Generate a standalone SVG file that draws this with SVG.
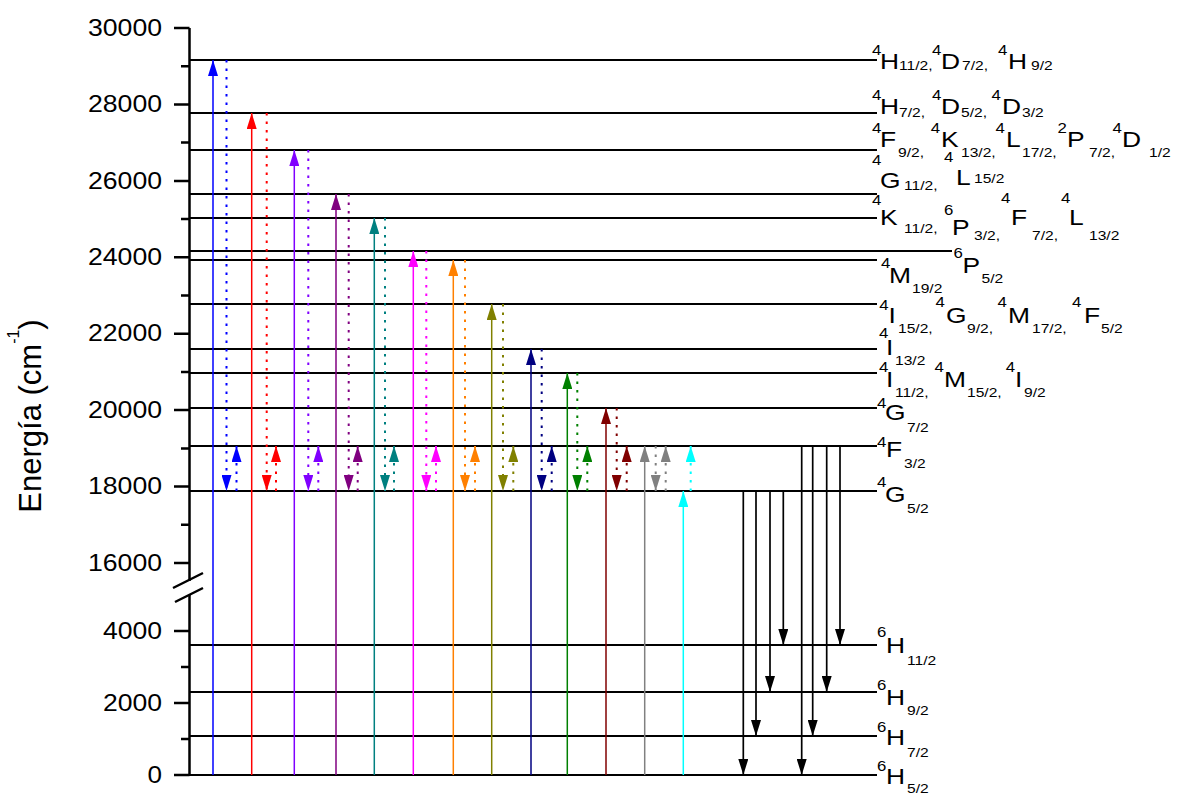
<svg xmlns="http://www.w3.org/2000/svg" width="1179" height="795" viewBox="0 0 1179 795">
<style>
text{font-family:"Liberation Sans",Arial,sans-serif;fill:#000}
.lv{stroke:#000;stroke-width:2;fill:none}
.ax{stroke:#000;stroke-width:2.5;fill:none}
.tk{font-size:23px;text-anchor:end}
.m{font-size:22px}
.p{font-size:14px}
.b{font-size:13px}
.s{fill:none;stroke-width:1.5}
.d{fill:none;stroke-width:2;stroke-dasharray:2.5 6}
.k{fill:none;stroke:#000;stroke-width:1.7}
</style>
<defs>
<marker id="h-blue" viewBox="0 0 16 10" refX="16" refY="5" markerWidth="16" markerHeight="10" markerUnits="userSpaceOnUse" orient="auto"><path d="M0,0L16,5L0,10z" fill="#0000FF"/></marker>
<marker id="h-red" viewBox="0 0 16 10" refX="16" refY="5" markerWidth="16" markerHeight="10" markerUnits="userSpaceOnUse" orient="auto"><path d="M0,0L16,5L0,10z" fill="#FF0000"/></marker>
<marker id="h-violet" viewBox="0 0 16 10" refX="16" refY="5" markerWidth="16" markerHeight="10" markerUnits="userSpaceOnUse" orient="auto"><path d="M0,0L16,5L0,10z" fill="#8000FF"/></marker>
<marker id="h-purple" viewBox="0 0 16 10" refX="16" refY="5" markerWidth="16" markerHeight="10" markerUnits="userSpaceOnUse" orient="auto"><path d="M0,0L16,5L0,10z" fill="#800080"/></marker>
<marker id="h-teal" viewBox="0 0 16 10" refX="16" refY="5" markerWidth="16" markerHeight="10" markerUnits="userSpaceOnUse" orient="auto"><path d="M0,0L16,5L0,10z" fill="#008080"/></marker>
<marker id="h-magenta" viewBox="0 0 16 10" refX="16" refY="5" markerWidth="16" markerHeight="10" markerUnits="userSpaceOnUse" orient="auto"><path d="M0,0L16,5L0,10z" fill="#FF00FF"/></marker>
<marker id="h-orange" viewBox="0 0 16 10" refX="16" refY="5" markerWidth="16" markerHeight="10" markerUnits="userSpaceOnUse" orient="auto"><path d="M0,0L16,5L0,10z" fill="#FF8000"/></marker>
<marker id="h-olive" viewBox="0 0 16 10" refX="16" refY="5" markerWidth="16" markerHeight="10" markerUnits="userSpaceOnUse" orient="auto"><path d="M0,0L16,5L0,10z" fill="#808000"/></marker>
<marker id="h-navy" viewBox="0 0 16 10" refX="16" refY="5" markerWidth="16" markerHeight="10" markerUnits="userSpaceOnUse" orient="auto"><path d="M0,0L16,5L0,10z" fill="#000080"/></marker>
<marker id="h-green" viewBox="0 0 16 10" refX="16" refY="5" markerWidth="16" markerHeight="10" markerUnits="userSpaceOnUse" orient="auto"><path d="M0,0L16,5L0,10z" fill="#008000"/></marker>
<marker id="h-darkred" viewBox="0 0 16 10" refX="16" refY="5" markerWidth="16" markerHeight="10" markerUnits="userSpaceOnUse" orient="auto"><path d="M0,0L16,5L0,10z" fill="#800000"/></marker>
<marker id="h-gray" viewBox="0 0 16 10" refX="16" refY="5" markerWidth="16" markerHeight="10" markerUnits="userSpaceOnUse" orient="auto"><path d="M0,0L16,5L0,10z" fill="#808080"/></marker>
<marker id="h-cyan" viewBox="0 0 16 10" refX="16" refY="5" markerWidth="16" markerHeight="10" markerUnits="userSpaceOnUse" orient="auto"><path d="M0,0L16,5L0,10z" fill="#00FFFF"/></marker>
<marker id="h-black" viewBox="0 0 16 10" refX="16" refY="5" markerWidth="16" markerHeight="10" markerUnits="userSpaceOnUse" orient="auto"><path d="M0,0L16,5L0,10z" fill="#000000"/></marker>
</defs>
<rect width="1179" height="795" fill="#fff"/>

<g id="axis">
<path class="ax" d="M189.5,28V581M189.5,595V776"/>
<path class="ax" d="M174,28H189.5M174,104.4H189.5M174,181H189.5M174,257.3H189.5M174,333.7H189.5M174,410H189.5M174,486.6H189.5M174,563H189.5M174,631H189.5M174,703H189.5M174,775H189.5"/>
<path class="ax" d="M181,66.2H189.5M181,142.6H189.5M181,219.1H189.5M181,295.5H189.5M181,371.9H189.5M181,448.4H189.5M181,524.8H189.5M181,667H189.5M181,739H189.5"/>
<path class="ax" stroke-width="2" d="M173,588L203,573M175,602L203,588"/>
<text class="tk" x="162" y="35.5" textLength="74" lengthAdjust="spacingAndGlyphs">30000</text>
<text class="tk" x="162" y="112" textLength="74" lengthAdjust="spacingAndGlyphs">28000</text>
<text class="tk" x="162" y="188.5" textLength="74" lengthAdjust="spacingAndGlyphs">26000</text>
<text class="tk" x="162" y="265" textLength="74" lengthAdjust="spacingAndGlyphs">24000</text>
<text class="tk" x="162" y="341" textLength="74" lengthAdjust="spacingAndGlyphs">22000</text>
<text class="tk" x="162" y="417.5" textLength="74" lengthAdjust="spacingAndGlyphs">20000</text>
<text class="tk" x="162" y="494" textLength="74" lengthAdjust="spacingAndGlyphs">18000</text>
<text class="tk" x="162" y="570.5" textLength="74" lengthAdjust="spacingAndGlyphs">16000</text>
<text class="tk" x="162" y="638.5" textLength="59" lengthAdjust="spacingAndGlyphs">4000</text>
<text class="tk" x="162" y="710.5" textLength="59" lengthAdjust="spacingAndGlyphs">2000</text>
<text class="tk" x="162" y="782.5" textLength="14.5" lengthAdjust="spacingAndGlyphs">0</text>
<text transform="translate(41,416) rotate(-90)" text-anchor="middle" font-size="31">Energía (cm<tspan font-size="16" dy="-22">-1</tspan><tspan dy="22">)</tspan></text>
</g>

<g id="lv-4H11_2"><path class="lv" d="M189.5,60H877"/>
<text transform="translate(860,0) scale(1.2,1)"><tspan class="p" x="10" y="55">4</tspan><tspan class="m" x="16.67" y="69">H</tspan><tspan class="b" x="32.5" y="70">11/2,</tspan><tspan class="p" x="60" y="55">4</tspan><tspan class="m" x="67.5" y="69">D</tspan><tspan class="b" x="85" y="70">7/2,</tspan><tspan class="p" x="115" y="55">4</tspan><tspan class="m" x="123.33" y="69">H</tspan><tspan class="b" x="142.5" y="70">9/2</tspan></text></g>

<g id="lv-4H7_2"><path class="lv" d="M189.5,113H877"/>
<text transform="translate(860,0) scale(1.2,1)"><tspan class="p" x="10" y="100">4</tspan><tspan class="m" x="16.67" y="114">H</tspan><tspan class="b" x="32.5" y="117">7/2,</tspan><tspan class="p" x="60" y="100">4</tspan><tspan class="m" x="67.5" y="114">D</tspan><tspan class="b" x="84.17" y="117">5/2,</tspan><tspan class="p" x="109.5" y="100">4</tspan><tspan class="m" x="118.33" y="114">D</tspan><tspan class="b" x="135" y="117">3/2</tspan></text></g>

<g id="lv-4F9_2"><path class="lv" d="M189.5,150H877"/>
<text transform="translate(860,0) scale(1.2,1)"><tspan class="p" x="10" y="133">4</tspan><tspan class="m" x="16.67" y="147">F</tspan><tspan class="b" x="31.67" y="157">9/2,</tspan><tspan class="p" x="59" y="133">4</tspan><tspan class="m" x="67.5" y="147">K</tspan><tspan class="b" x="84.17" y="157">13/2,</tspan><tspan class="p" x="113" y="133">4</tspan><tspan class="m" x="121.67" y="147">L</tspan><tspan class="b" x="135" y="157">17/2,</tspan><tspan class="p" x="164.5" y="133">2</tspan><tspan class="m" x="172.5" y="147">P</tspan><tspan class="b" x="190.83" y="157">7/2,</tspan><tspan class="p" x="210.5" y="133">4</tspan><tspan class="m" x="218.33" y="147">D</tspan><tspan class="b" x="240.83" y="157">1/2</tspan></text></g>

<g id="lv-4G11_2"><path class="lv" d="M189.5,194H877"/>
<text transform="translate(860,0) scale(1.2,1)"><tspan class="p" x="10" y="165">4</tspan><tspan class="m" x="16.67" y="188">G</tspan><tspan class="b" x="36.67" y="190">11/2,</tspan><tspan class="p" x="70" y="162">4</tspan><tspan class="m" x="80" y="185">L</tspan><tspan class="b" x="95" y="183">15/2</tspan></text></g>

<g id="lv-4K11_2"><path class="lv" d="M189.5,218H877"/>
<text transform="translate(860,0) scale(1.2,1)"><tspan class="p" x="10" y="205">4</tspan><tspan class="m" x="16.67" y="225">K</tspan><tspan class="b" x="36.67" y="233">11/2,</tspan><tspan class="p" x="70" y="215">6</tspan><tspan class="m" x="76.67" y="235">P</tspan><tspan class="b" x="95" y="240">3/2,</tspan><tspan class="p" x="117.5" y="203">4</tspan><tspan class="m" x="125.83" y="225">F</tspan><tspan class="b" x="143.33" y="240">7/2,</tspan><tspan class="p" x="167.5" y="203">4</tspan><tspan class="m" x="174.17" y="225">L</tspan><tspan class="b" x="190.83" y="240">13/2</tspan></text></g>

<g id="lv-6P5_2"><path class="lv" d="M189.5,251H952"/>
<text transform="translate(860,0) scale(1.2,1)"><tspan class="p" x="78" y="258">6</tspan><tspan class="m" x="85.5" y="273">P</tspan><tspan class="b" x="101.3" y="283">5/2</tspan></text></g>

<g id="lv-4M19_2"><path class="lv" d="M189.5,260H877"/>
<text transform="translate(860,0) scale(1.2,1)"><tspan class="p" x="17.5" y="268">4</tspan><tspan class="m" x="24.17" y="283">M</tspan><tspan class="b" x="43.33" y="293">19/2</tspan></text></g>

<g id="lv-4I15_2"><path class="lv" d="M189.5,304H877"/>
<text transform="translate(860,0) scale(1.2,1)"><tspan class="p" x="16" y="310">4</tspan><tspan class="m" x="23.8" y="323">I</tspan><tspan class="b" x="31.67" y="333">15/2,</tspan><tspan class="p" x="63" y="307">4</tspan><tspan class="m" x="71.67" y="323">G</tspan><tspan class="b" x="89.17" y="333">9/2,</tspan><tspan class="p" x="114.5" y="307">4</tspan><tspan class="m" x="123.33" y="323">M</tspan><tspan class="b" x="143.33" y="333">17/2,</tspan><tspan class="p" x="176.67" y="307">4</tspan><tspan class="m" x="186.67" y="323">F</tspan><tspan class="b" x="200.83" y="333">5/2</tspan></text></g>

<g id="lv-4I13_2"><path class="lv" d="M189.5,349H877"/>
<text transform="translate(860,0) scale(1.2,1)"><tspan class="p" x="15.83" y="338">4</tspan><tspan class="m" x="21.67" y="355">I</tspan><tspan class="b" x="29.17" y="365">13/2</tspan></text></g>

<g id="lv-4I11_2"><path class="lv" d="M189.5,373H877"/>
<text transform="translate(860,0) scale(1.2,1)"><tspan class="p" x="15.83" y="372">4</tspan><tspan class="m" x="21.67" y="387">I</tspan><tspan class="b" x="29.17" y="397">11/2,</tspan><tspan class="p" x="62" y="372">4</tspan><tspan class="m" x="70" y="387">M</tspan><tspan class="b" x="89.17" y="397">15/2,</tspan><tspan class="p" x="121.5" y="372">4</tspan><tspan class="m" x="129.17" y="387">I</tspan><tspan class="b" x="136.67" y="397">9/2</tspan></text></g>

<g id="lv-4G7_2"><path class="lv" d="M189.5,408H877"/>
<text transform="translate(860,0) scale(1.2,1)"><tspan class="p" x="14.17" y="408">4</tspan><tspan class="m" x="20.83" y="420">G</tspan><tspan class="b" x="39.17" y="432">7/2</tspan></text></g>

<g id="lv-4F3_2"><path class="lv" d="M189.5,446H877"/>
<text transform="translate(860,0) scale(1.2,1)"><tspan class="p" x="14.17" y="447">4</tspan><tspan class="m" x="21.67" y="457">F</tspan><tspan class="b" x="36.67" y="468">3/2</tspan></text></g>

<g id="lv-4G5_2"><path class="lv" d="M189.5,491H877"/>
<text transform="translate(860,0) scale(1.2,1)"><tspan class="p" x="14.17" y="487">4</tspan><tspan class="m" x="20.83" y="502">G</tspan><tspan class="b" x="39.17" y="513">5/2</tspan></text></g>

<g id="lv-6H11_2"><path class="lv" d="M189.5,645H877"/>
<text transform="translate(860,0) scale(1.2,1)"><tspan class="p" x="14.17" y="637">6</tspan><tspan class="m" x="21.67" y="653">H</tspan><tspan class="b" x="39.17" y="665">11/2</tspan></text></g>

<g id="lv-6H9_2"><path class="lv" d="M189.5,692H877"/>
<text transform="translate(860,0) scale(1.2,1)"><tspan class="p" x="14.17" y="690">6</tspan><tspan class="m" x="21.67" y="705">H</tspan><tspan class="b" x="39.17" y="715">9/2</tspan></text></g>

<g id="lv-6H7_2"><path class="lv" d="M189.5,736H877"/>
<text transform="translate(860,0) scale(1.2,1)"><tspan class="p" x="14.17" y="732">6</tspan><tspan class="m" x="21.67" y="745">H</tspan><tspan class="b" x="39.17" y="757">7/2</tspan></text></g>

<g id="lv-6H5_2"><path class="lv" d="M189.5,775H877"/>
<text transform="translate(860,0) scale(1.2,1)"><tspan class="p" x="14.17" y="771">6</tspan><tspan class="m" x="21.67" y="784">H</tspan><tspan class="b" x="39.17" y="793">5/2</tspan></text></g>

<g id="connectors">
<path class="s" stroke="#0000FF" d="M213,775V60" marker-end="url(#h-blue)"/>
<path class="d" stroke="#0000FF" d="M226.5,60V491" marker-end="url(#h-blue)"/>
<path class="d" stroke="#0000FF" d="M236.5,491V446" marker-end="url(#h-blue)"/>

<path class="s" stroke="#FF0000" d="M251.7,775V113" marker-end="url(#h-red)"/>
<path class="d" stroke="#FF0000" d="M266.7,113V491" marker-end="url(#h-red)"/>
<path class="d" stroke="#FF0000" d="M276,491V446" marker-end="url(#h-red)"/>

<path class="s" stroke="#8000FF" d="M294.3,775V150" marker-end="url(#h-violet)"/>
<path class="d" stroke="#8000FF" d="M308.3,150V491" marker-end="url(#h-violet)"/>
<path class="d" stroke="#8000FF" d="M318.3,491V446" marker-end="url(#h-violet)"/>

<path class="s" stroke="#800080" d="M336,775V194" marker-end="url(#h-purple)"/>
<path class="d" stroke="#800080" d="M348.7,194V491" marker-end="url(#h-purple)"/>
<path class="d" stroke="#800080" d="M357.7,491V446" marker-end="url(#h-purple)"/>

<path class="s" stroke="#008080" d="M374.3,775V218" marker-end="url(#h-teal)"/>
<path class="d" stroke="#008080" d="M385,218V491" marker-end="url(#h-teal)"/>
<path class="d" stroke="#008080" d="M394,491V446" marker-end="url(#h-teal)"/>

<path class="s" stroke="#FF00FF" d="M413.3,775V251" marker-end="url(#h-magenta)"/>
<path class="d" stroke="#FF00FF" d="M426.3,251V491" marker-end="url(#h-magenta)"/>
<path class="d" stroke="#FF00FF" d="M436,491V446" marker-end="url(#h-magenta)"/>

<path class="s" stroke="#FF8000" d="M453.3,775V260" marker-end="url(#h-orange)"/>
<path class="d" stroke="#FF8000" d="M465,260V491" marker-end="url(#h-orange)"/>
<path class="d" stroke="#FF8000" d="M475,491V446" marker-end="url(#h-orange)"/>

<path class="s" stroke="#808000" d="M491.7,775V304" marker-end="url(#h-olive)"/>
<path class="d" stroke="#808000" d="M503,304V491" marker-end="url(#h-olive)"/>
<path class="d" stroke="#808000" d="M513.3,491V446" marker-end="url(#h-olive)"/>

<path class="s" stroke="#000080" d="M531,775V349" marker-end="url(#h-navy)"/>
<path class="d" stroke="#000080" d="M541.7,349V491" marker-end="url(#h-navy)"/>
<path class="d" stroke="#000080" d="M551.7,491V446" marker-end="url(#h-navy)"/>

<path class="s" stroke="#008000" d="M567.3,775V373" marker-end="url(#h-green)"/>
<path class="d" stroke="#008000" d="M577.3,373V491" marker-end="url(#h-green)"/>
<path class="d" stroke="#008000" d="M587.3,491V446" marker-end="url(#h-green)"/>

<path class="s" stroke="#800000" d="M606,775V408" marker-end="url(#h-darkred)"/>
<path class="d" stroke="#800000" d="M616.7,408V491" marker-end="url(#h-darkred)"/>
<path class="d" stroke="#800000" d="M626.7,491V446" marker-end="url(#h-darkred)"/>

<path class="s" stroke="#808080" d="M644.7,775V446" marker-end="url(#h-gray)"/>
<path class="d" stroke="#808080" d="M655.7,446V491" marker-end="url(#h-gray)"/>
<path class="d" stroke="#808080" d="M665.7,491V446" marker-end="url(#h-gray)"/>

<path class="s" stroke="#00FFFF" d="M683.3,775V491" marker-end="url(#h-cyan)"/>
<path class="d" stroke="#00FFFF" d="M690.7,491V446" marker-end="url(#h-cyan)"/>

<path class="k" d="M743.3,491V775" marker-end="url(#h-black)"/>
<path class="k" d="M756,491V736" marker-end="url(#h-black)"/>
<path class="k" d="M770,491V692" marker-end="url(#h-black)"/>
<path class="k" d="M783.3,491V645" marker-end="url(#h-black)"/>
<path class="k" d="M801.7,446V775" marker-end="url(#h-black)"/>
<path class="k" d="M812.7,446V736" marker-end="url(#h-black)"/>
<path class="k" d="M826.7,446V692" marker-end="url(#h-black)"/>
<path class="k" d="M840,446V645" marker-end="url(#h-black)"/>
</g>
</svg>
